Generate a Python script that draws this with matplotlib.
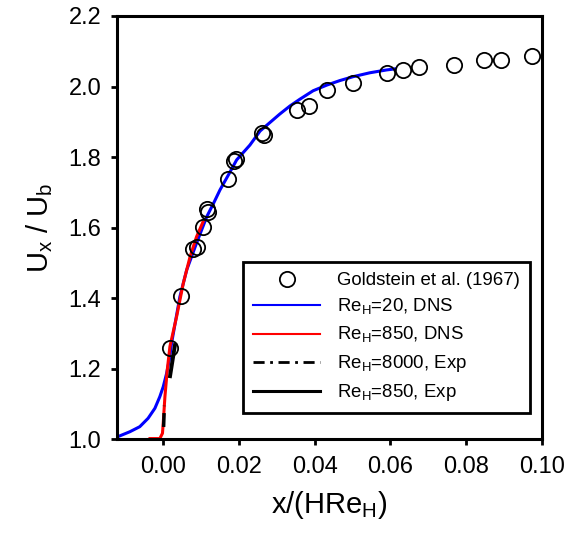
import matplotlib
matplotlib.use("Agg")
import matplotlib.pyplot as plt
from matplotlib.lines import Line2D

plt.rcParams['font.family'] = ['Liberation Sans', 'DejaVu Sans']

# Goldstein et al. (1967) experimental points
gold_x = [0.0018, 0.0046, 0.0078, 0.0090, 0.0104, 0.0115, 0.0119, 0.0172, 0.0187,
          0.0192, 0.0261, 0.0265, 0.0354, 0.0386, 0.0432, 0.0502, 0.0592, 0.0634,
          0.0676, 0.0768, 0.0848, 0.0892, 0.0974]
gold_y = [1.259, 1.407, 1.539, 1.546, 1.601, 1.654, 1.645, 1.737, 1.790,
          1.794, 1.867, 1.863, 1.933, 1.944, 1.990, 2.011, 2.038, 2.047,
          2.056, 2.061, 2.075, 2.075, 2.086]

# Re_H = 20, DNS
dns20_x = [-0.0123, -0.0120, -0.0088, -0.0062, -0.0040, -0.0022, -0.0009, 0.0000,
           0.0009, 0.0016, 0.0022, 0.0044, 0.0062, 0.0088, 0.0115, 0.0133,
           0.0150, 0.0172, 0.0194, 0.0229, 0.0256, 0.0282, 0.0308, 0.0335,
           0.0361, 0.0396, 0.0432, 0.0467, 0.0502, 0.0546, 0.0590, 0.0612]
dns20_y = [1.000, 1.0074, 1.0215, 1.0357, 1.0595, 1.0879, 1.1208, 1.149,
           1.187, 1.225, 1.272, 1.404, 1.480, 1.556, 1.631, 1.669,
           1.707, 1.749, 1.792, 1.834, 1.874, 1.898, 1.922, 1.945,
           1.964, 1.988, 2.004, 2.017, 2.028, 2.039, 2.047, 2.050]

# Re_H = 850, DNS
dns850_x = [-0.0035, -0.0009, -0.0002, 0.0000, 0.00045, 0.00106, 0.00177, 0.00354,
            0.0053, 0.0071, 0.0088, 0.0105]
dns850_y = [1.002, 1.002, 1.017, 1.046, 1.121, 1.196, 1.263, 1.348,
            1.442, 1.518, 1.574, 1.616]

# Re_H = 8000, Exp
exp8000_x = [0.0001, 0.0003]
exp8000_y = [1.035, 1.095]

# Re_H = 850, Exp
exp850_x = [0.0018, 0.0031]
exp850_y = [1.179, 1.267]


def main():
  fig = plt.figure(figsize=(5.7, 5.4), dpi=100)
  ax = fig.add_axes([0.2047, 0.1865, 0.7456, 0.7839])

  ax.plot(dns20_x, dns20_y, '-', color='#0000ff', lw=2.2)
  ax.plot(dns850_x, dns850_y, '-', color='#ff0000', lw=2.2)
  ax.plot(exp8000_x, exp8000_y, color='black', lw=2.5, linestyle=(0, (4, 2, 1, 2)))
  ax.plot(exp850_x, exp850_y, '-', color='black', lw=2.8)
  ax.plot(gold_x, gold_y, 'o', mfc='none', mec='black', mew=1.3, ms=11)

  ax.set_xlim(-0.0123, 0.10)
  ax.set_ylim(1.0, 2.2)
  ax.set_xticks([0.0, 0.02, 0.04, 0.06, 0.08, 0.10])
  ax.set_yticks([1.0, 1.2, 1.4, 1.6, 1.8, 2.0, 2.2])
  ax.set_xticklabels(['0.00', '0.02', '0.04', '0.06', '0.08', '0.10'])
  ax.set_yticklabels(['1.0', '1.2', '1.4', '1.6', '1.8', '2.0', '2.2'])
  ax.tick_params(direction='out', length=4, width=2, labelsize=17)
  ax.tick_params(axis='x', pad=8)
  ax.tick_params(axis='y', pad=7)
  for s in ax.spines.values():
    s.set_linewidth(2.2)

  ax.set_xlabel(r'x/(HRe$_{\mathregular{H}}$)', fontsize=21, labelpad=8)
  ax.set_ylabel(r'U$_{\mathregular{x}}$ / U$_{\mathregular{b}}$', fontsize=21, labelpad=10)

  handles = [
    Line2D([], [], ls='none', marker='o', mfc='none', mec='black', mew=1.3, ms=11),
    Line2D([], [], color='#0000ff', lw=1.5),
    Line2D([], [], color='#ff0000', lw=1.5),
    Line2D([], [], color='black', lw=2, linestyle=(0, (4, 2, 1, 2))),
    Line2D([], [], color='black', lw=2.2),
  ]
  labels = ['Goldstein et al. (1967)',
            r'Re$_{\mathregular{H}}$=20, DNS',
            r'Re$_{\mathregular{H}}$=850, DNS',
            r'Re$_{\mathregular{H}}$=8000, Exp',
            r'Re$_{\mathregular{H}}$=850, Exp']
  leg = ax.legend(handles, labels, loc='lower right', bbox_to_anchor=(0.9725, 0.0614),
                  fontsize=13.4, frameon=True, fancybox=False, edgecolor='black',
                  handlelength=3.6, handletextpad=0.9, labelspacing=0.42,
                  borderpad=0.55, borderaxespad=0.0)
  leg.get_frame().set_linewidth(2)
  leg.get_frame().set_alpha(1)

  fig.savefig('out.png', dpi=100)


if __name__ == "__main__":
  main()
